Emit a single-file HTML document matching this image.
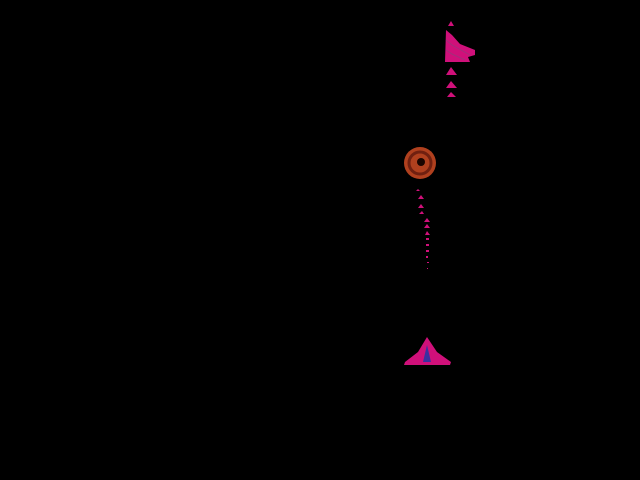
<!DOCTYPE html>
<html><head><style>html,body{margin:0;padding:0;background:#000;width:640px;height:480px;overflow:hidden}</style></head>
<body>
<svg width="640" height="480" xmlns="http://www.w3.org/2000/svg">
<rect width="640" height="480" fill="#000"/>
<g fill="#d0107a">
<polygon points="451,21 448,26 454,26"/>
<path d="M446,30 L452,35 L460,44 L475,50 L475,55 L468,57 L470,62 L445,62 Z"/>
<polygon points="451,67 446,75 457,75"/>
<polygon points="451,81 446,88 457,88"/>
<polygon points="451,92 447,97 456,97"/>
<polygon points="418,189 416,191 420,191"/>
<polygon points="421,195 418,199 424,199"/>
<polygon points="421,204 418,208 424,208"/>
<polygon points="422,211 419,214 424,214"/>
<polygon points="427,218 424,222 430,222"/>
<polygon points="427,224 424,228 430,228"/>
<polygon points="427,231 425,235 430,235"/>
<rect x="426" y="238" width="3" height="2"/><rect x="426" y="244" width="3" height="2"/>
<rect x="426" y="250" width="3" height="2"/><rect x="426" y="256" width="2" height="2"/>
<rect x="427" y="262" width="2" height="1"/><rect x="427" y="268" width="1" height="1"/>
<path d="M427,337 L437,352 L451,362 L450,365 L404,365 L405,362 L418,352 Z"/>
</g>
<g stroke="#a0307a" stroke-width="1" fill="none">
<path d="M446,40 L452,45 L470,55"/><path d="M446,50 L452,54 L465,60"/>
</g>
<polygon points="427,345 423,362 431,362" fill="#3a30a0"/>
<circle cx="420" cy="163" r="16" fill="#b0401e"/>
<circle cx="420" cy="163" r="11" fill="none" stroke="#702010" stroke-width="3"/>
<circle cx="421" cy="162" r="4" fill="#1a0500"/>
</svg>
</body></html>
